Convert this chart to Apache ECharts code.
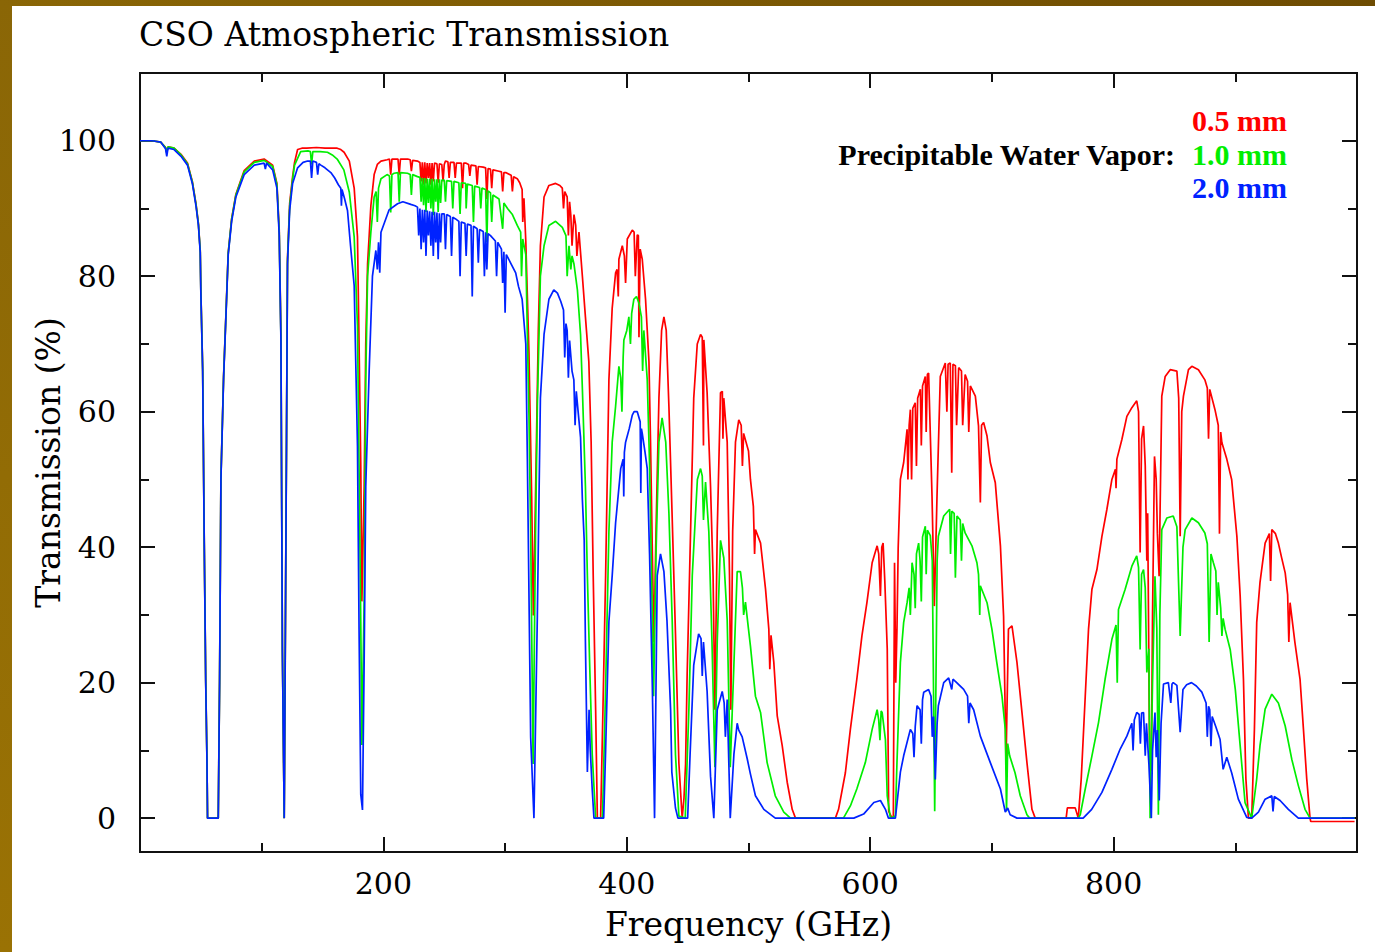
<!DOCTYPE html>
<html>
<head>
<meta charset="utf-8">
<script src="https://cdn.jsdelivr.net/npm/echarts@6/dist/echarts.min.js"></script>
<style>
html,body{margin:0;padding:0;background:#fff;}
#chart{width:1375px;height:952px;}
</style>
</head>
<body>
<div id="chart"></div>
<script>
// ---- Data (frequency GHz, transmission %) ----
const titleText = 'CSO Atmospheric Transmission';
const xTickLabels = [200, 400, 600, 800];
const yTickLabels = [0, 20, 40, 60, 80, 100];
const yMinorTicks = [10, 30, 50, 70, 90];
const seriesNames = ['0.5 mm', '1.0 mm', '2.0 mm'];

const pwv05 = [[0,100],[10,100],[17,99.8],[21,99],[22,98.3],[23,99.1],[28,98.9],[33.7,98],[39,96.7],[43,94],[46,90.7],[48,87.8],[49.5,83.8],[50,77.9],[51.5,66.3],[52.8,40.7],[54,20.3],[55,9.1],[55.5,0],[64.3,0],[65.4,20.3],[66.5,50.3],[68.7,65.3],[70.6,74.3],[72.5,83.5],[75.3,88.5],[78.8,92.1],[85.6,95.6],[93.9,97],[102,97.3],[109,96.4],[112.5,93.7],[114.4,86.8],[115.8,71.3],[117,25.3],[118.5,0],[119.3,23.3],[120.4,56.8],[121.2,82.6],[123,90.8],[125.4,94.7],[127,96.8],[129.5,98.7],[133,98.9],[137,98.9],[145,99],[152,98.9],[157,98.9],[162,98.9],[165,98.7],[167.7,98.3],[172,97],[176,93],[178.7,85.8],[180,70],[181.4,52.2],[182.3,32],[184.2,49],[185.5,70],[187,81.8],[189.7,90.4],[192.4,95],[195,96.5],[198,97],[203,97.2],[205,97.3],[206,95],[207,97.3],[208.8,97.3],[212,97.3],[213,95],[214,97.3],[220,97.3],[222,97.2],[223,95.5],[224,97.1],[228,97],[230,96.8],[231,94],[232,96.8],[233,93.5],[234,96.8],[235,93.7],[236,96.7],[237,94.5],[238,96.7],[239,93.5],[240,96.7],[241,94],[242,96.7],[244,96.6],[245,93.8],[246,96.6],[248,96.5],[249,94],[250,96.5],[251,97],[253,96.9],[254,94.5],[255,96.8],[258,96.8],[259,94.5],[260,96.7],[264,96.7],[265,93],[266,96.7],[267.6,96.7],[270,96.5],[271,94.8],[272,96.4],[276,96.3],[277,93.5],[278,96.2],[282,96.1],[284,96],[285,91.4],[286,95.9],[288,95.8],[289,93],[290,95.7],[295,95.5],[297,95.4],[298,92.5],[299,95.3],[300.5,95.3],[305,94.9],[306,92.5],[307,94.7],[310,94.4],[312,93.8],[314,92.8],[314.5,88],[315.5,91.5],[317,85.2],[319.6,68.7],[321.8,47.6],[323.2,29.9],[325,47.6],[327.3,72],[329,84.5],[332,91.7],[336,93.4],[341.5,93.7],[345,93.4],[347,93],[348,90],[349,92.5],[351,91.7],[352,86],[353,91],[354,89],[355,84.5],[356.6,89.1],[358,87.5],[359,83],[360.7,86.5],[363.5,80],[366,74],[368.8,67.4],[370.7,55.5],[372.4,35.8],[374.4,16],[375.8,0],[378.5,0],[380.4,16],[382.6,35.8],[385.3,64.7],[388,75.3],[390.8,80.5],[392,81],[393,77],[393.5,82.5],[396.3,84.5],[398,83],[399,79],[400.4,85.5],[404.5,86.8],[406,86.5],[407,80],[408.6,86.1],[409.5,86],[410,71],[411,84],[412.7,82.5],[415.4,76.6],[418.2,67.4],[419.5,55.5],[421,39],[422.3,26],[424,42.3],[426.4,62],[428.6,72],[430.5,74],[432.4,72],[434.6,60.8],[437.3,44.3],[440,27.2],[442.8,8.1],[445.5,0],[447,3],[448.3,8],[449.6,21.3],[452.4,42.3],[455,62],[457.9,70],[460.6,71.4],[462,71],[463,55],[463.3,70.6],[466,62.8],[468.8,49],[470.9,35.8],[472.4,16],[474.3,42.3],[477,62.8],[478.5,63],[479,56],[479.7,62],[482.5,55.5],[484.4,35.8],[485.5,16],[487,42.3],[489.3,55.5],[492,58.8],[494,58],[495,52],[496,56.8],[500,54.2],[501.6,50],[504,46],[505,39],[505.7,42.6],[509.9,40.6],[514,33.8],[516.7,27.9],[517.5,22],[518.5,27],[520.8,23],[523.6,15.1],[527.7,10.7],[531.8,5.3],[535.9,1.3],[538.6,0],[571.4,0],[574,1.3],[579.6,6.7],[583.7,13.1],[589,20.5],[593.2,26.9],[597.3,31.8],[601.6,37.7],[605.7,40.2],[607,39],[608.4,32.8],[609.5,40],[610.6,40.6],[612,35],[614,25],[615.2,1],[618,0],[619,0],[620,37.7],[621,20],[622,27.9],[623,40],[624.8,50],[627.5,52.5],[630.3,57.4],[631,50],[632,58],[633,60.3],[634,50],[635,60.5],[637,61.3],[638,52],[639,62],[641.2,63.3],[642,55],[643,63.8],[645.3,65.2],[646,57],[647,65.5],[648,65.7],[650.8,47.5],[652.7,31.3],[654.9,47.5],[657.6,65.2],[661.7,67.2],[663,60],[664,67],[665.8,67.2],[667,51],[668,67],[670,66.8],[671,58],[672.7,66.5],[675,66],[676,58],[678,65.5],[680,64.5],[681,57],[682.3,63.8],[686.4,62.3],[689,57.9],[690.5,46.6],[691.5,58],[693.2,58.4],[696,56.4],[698.7,52.5],[702.8,49.5],[707,40.2],[709.6,29.8],[711.6,8.2],[713.6,27.9],[716.5,28.4],[720.6,23],[724.7,15.6],[728.8,8.2],[732.9,1.3],[735.6,0],[761,0],[762,1.5],[768.5,1.5],[771,0],[773.4,5.8],[776.7,18],[779.4,27.9],[782.2,33.8],[786.3,36.7],[790.4,41.6],[794.5,45.6],[798.6,50],[801.5,51.5],[802,48.7],[802.7,53],[806.8,55.9],[810.9,59.3],[815,60.6],[819,61.6],[820.5,60],[821.8,39.2],[823,56],[824.6,57.9],[826,52],[827.3,38],[828,45],[829.5,11.2],[831,7],[832,30],[833.6,53.4],[835,50],[836,42],[837.4,35.7],[839.6,62.3],[842.4,65.2],[846.5,66.2],[852,66],[853.5,62],[854.7,41.6],[856,60],[857.4,62.3],[861.5,66.2],[864.3,66.7],[869.7,66.2],[875,64.7],[877,63.5],[878,56],[879,63.3],[883.3,60.3],[886,58],[887,42],[888,57],[889,55.4],[893,53],[897,50],[901.3,41.6],[904,32.8],[906.7,20.5],[908.7,5.8],[910.8,0],[913.5,0],[915.7,13.1],[917.6,28.9],[920.3,34.8],[924.5,40.6],[928,42],[929,35],[930,42.6],[933,42],[935.4,40.6],[938,38.5],[941,36.2],[943,33],[944,26],[945,31.8],[949,25.9],[953.2,20.5],[956,13.1],[958.7,5.8],[961.4,0],[962,-0.5],[998,-0.5]];

const pwv10 = [[0,100],[10,100],[17,99.8],[21,99],[22,98.2],[23,99.1],[28,98.9],[33.7,97.9],[39,96.6],[43,93.9],[46,90.6],[48,87.7],[49.5,83.7],[50,77.8],[51.5,66.2],[52.8,40.6],[54,20.2],[55,9],[55.5,0],[64.3,0],[65.4,20.2],[66.5,50.2],[68.7,65.2],[70.6,74.2],[72.5,83.4],[75.3,88.4],[78.8,92],[85.6,95.4],[93.9,96.8],[102,97.1],[109,96.2],[112.5,93.5],[114.4,86.5],[115.8,71],[117,25],[118.5,0],[119.3,23],[120.4,56.5],[121.2,82.3],[123,90.4],[125.4,94.3],[127,96.4],[129.5,97.4],[132,98.4],[138,98.5],[140,98.4],[141,96.5],[142,98.4],[148,98.4],[154,98.3],[158,97.9],[162,97.3],[167.5,95.7],[172,92.4],[176,85.8],[178.7,72.7],[180,52],[181.4,29],[182.3,10.8],[184.2,32.4],[185.5,64.7],[187,80],[189.7,86.5],[192.4,91.7],[194,92.5],[195,88],[196,93],[198,94.4],[203,95],[205,94.8],[206,89.4],[207,95],[208.8,95.2],[212,95.3],[213,91],[214,95.3],[219.8,95.2],[222,95],[223,92],[224,95],[228,94.7],[230,94.6],[231,91],[232,94.5],[233,90.5],[234,94.5],[235,89.5],[236,94.4],[237,90.8],[238,94.4],[239,90],[240,94.4],[241,89],[242,94.3],[243,91],[244,94.3],[245,89.5],[246,94.3],[247,90.8],[248,94.2],[250,94.2],[251,91],[252,94.1],[256,94],[257,90],[258,94],[262,93.8],[263,89.2],[264,93.8],[267.6,93.7],[268,90],[269,93.6],[273,93.4],[274,88],[275,93.3],[279,93.1],[280,90],[281,93],[284,92.8],[285,85],[286,92.6],[288,92.3],[289,88],[290,92],[295,91.4],[298,87],[299,90.8],[302,90],[306,89.1],[310,87.5],[312.8,86.5],[313.5,80],[314.5,85.5],[317,83.2],[319.6,59.5],[321,42.3],[323,8],[325,42],[326.5,60.8],[329,80],[332,84.5],[336,87.5],[341.5,88.1],[347,87.2],[350,86],[351,80],[352.5,84.5],[354,81],[355,83],[356.6,81.8],[359.4,78],[362,71.4],[363.5,63.4],[366,49],[367.6,35.8],[369.5,22.6],[371.6,9.4],[374.4,0],[380,0],[382.6,19.3],[385.3,42.3],[388,55.5],[390.8,60.8],[393.5,66.7],[395,65],[396,60],[397,68],[397.6,70.6],[400,72],[401.7,74],[403,70],[404,74.5],[405.8,76.6],[408,77],[410,76],[412,74],[413,66],[414,72],[416.8,64.7],[418.7,52.2],[421,29.2],[422,18],[424,39],[426.4,55.5],[429,59.1],[432,55.5],[434.6,45],[437.3,29.2],[440,9.4],[442.8,0.3],[448,0],[451,16],[453.8,35.8],[456.5,45],[458,50],[460.6,51.6],[462,50.5],[463,44],[464.7,49.6],[467.4,42.3],[470,26],[472.4,7.5],[474.3,26],[477,41],[479.7,38.4],[482.5,29.2],[485,7.5],[488,22.6],[490.7,36.4],[493.4,36.4],[495,34],[496,30],[497.5,31.9],[500,27.9],[501.6,25.4],[505.7,18],[509.9,15.6],[515.3,8.2],[522,3.3],[529,0.9],[534.5,0],[578,0],[583.7,1.8],[589,4.3],[596,8.2],[601.6,13.1],[605.7,16],[607,14.5],[608,11.5],[609,15.8],[609.8,15.6],[612.5,11.6],[614,3.3],[616.6,0],[620.7,0.3],[622,8.2],[624.8,23],[627.5,28.9],[630.3,31.8],[632,34],[633,30],[634.4,37.7],[636,36],[637,31],[638,39],[639.8,40.6],[641,38],[642,32],[643,41.5],[645.3,43.1],[646,36],[647,42.5],[649.4,41.7],[651,38],[653,1],[655,38],[656,41.6],[660.4,44.6],[665.3,45.6],[666,39],[667,45.3],[669,45],[670,35.5],[671.3,44.6],[674,44],[675,38],[676,43.5],[678,42.1],[683.6,40.2],[687.7,37.7],[689,36],[690,30],[690.5,34.3],[696,31.8],[700,27.9],[704,23],[708.3,18],[711,13.1],[712,1],[713,11],[714.6,9.2],[719,6.7],[723.3,3.3],[728.8,0.5],[731,0],[771,0],[772.6,0.5],[776.7,4.3],[782.2,9.2],[787.6,14.1],[793,20.5],[798.6,26.4],[802,28.5],[803,20],[804,30.8],[809.5,33.8],[815,37.2],[819,38.7],[820.5,37],[821.8,24.9],[823,36],[824.6,36.7],[826,34],[827.3,21.5],[829,25],[830,0],[832,20],[834,35.7],[835.5,28],[836.8,0.5],[838,30],[839.6,42.6],[843.7,44.3],[849,44.6],[852,43],[854.7,26.9],[857,40],[858.8,42.6],[864.3,44.3],[869.7,43.6],[875,42.1],[877,40.5],[878.5,26],[880,39],[882,37.7],[884,36.5],[885,30],[886,34.8],[888,31],[889,26.9],[890,29.5],[891.6,27.9],[895.8,24.9],[900,19],[904,10.7],[908,2.3],[913.5,0],[917.6,5.8],[920.3,10.7],[924.5,16.1],[930,18.3],[935.4,17],[941,13.6],[946.4,8.7],[951.8,4.8],[957.3,1.3],[961.4,0],[998,0]];

const pwv20 = [[0,100],[10,100],[17,99.8],[21,98.8],[22,97.7],[23,98.9],[28,98.7],[33.7,97.7],[39,96.4],[43,93.7],[46,90.4],[48,87.5],[49.5,83.5],[50,77.6],[51.5,66],[52.8,40.4],[54,20],[55,8.8],[55.5,0],[64.3,0],[65.4,20],[66.5,50],[68.7,65],[70.6,74],[72.5,83.2],[75.3,88.1],[78.8,91.7],[85.6,95],[93.9,96.4],[102,96.7],[103,95.8],[104,96.7],[109,95.7],[112.5,93],[114.4,86],[115.8,70.6],[117,24.6],[118.5,0],[119.3,22.6],[120.4,56],[121.2,81.8],[123,89.8],[125.4,93.7],[129.5,96],[134,96.8],[137.7,97],[140,97],[141,94.5],[142,97],[145,96.8],[146,95],[147,96.6],[148.6,96.4],[152,96],[156.8,95.3],[160,94.5],[163,93.5],[165,93],[165.5,90.4],[166,92.8],[168,91.5],[170.5,89.7],[173,84.5],[176,78.6],[178.7,54.9],[180,27.9],[181.4,3.5],[182.8,1.2],[184.2,23.3],[185.5,49],[188.3,66],[191,80],[193.8,83.8],[195,81],[196,85],[197,80.5],[198,86.5],[204.7,89.8],[211.6,90.7],[216,91],[222.5,90.6],[226,90.4],[228,90.2],[229,86],[230,90],[231,84],[232,89.8],[233,85],[234,89.8],[235,83],[236,89.7],[237,86],[238,89.6],[239,84.5],[240,89.5],[241,83],[242,89.5],[243,85],[244,89.4],[245,82.5],[246,89.3],[247,85],[248,89.2],[250,89.2],[251,84],[252,89.1],[255,88.8],[256,83],[257,88.7],[259,88.5],[262,88.1],[263,80],[264,88],[267,87.8],[268,83],[269,87.7],[272,87.5],[273,77],[274,87.4],[277,87],[278,82],[279,86.9],[282,86.6],[283,80],[284,86.5],[285,81],[286,86.3],[288,86],[292,85.2],[293,80],[294,85],[297,84],[298,79],[299,83.6],[300,74.6],[301,83.2],[305,81.8],[308.7,80.5],[311,78.5],[314,76.6],[317,70],[318.3,53],[321,12],[323.7,0],[326.5,29.9],[329,62],[332,71.4],[336,76.6],[340,78],[343,77.5],[345.7,76.3],[348,75],[349,68],[350,73],[351,72],[352,65],[353,70.5],[355,66],[356.5,64.7],[357.5,58],[358.5,63],[360,60],[362,56.2],[363.5,47],[365,41],[366,26],[367.6,6.8],[369,16],[370,10],[371.6,4.2],[373,0],[381,0],[382.6,10],[385.3,29],[388,35.8],[390.8,43.6],[395,51.6],[397,53],[397.5,47.5],[398,54],[399,55.5],[402,57.5],[404.5,59.5],[406,60],[408.6,60],[411,58.5],[411.5,48],[412,57.5],[412.7,56.8],[415,54],[416.8,51.6],[418.7,39],[421,19.3],[422.8,0],[425,35.8],[427.7,39],[430.5,36.4],[433,29.2],[436,16],[437,6.8],[440,1.5],[442,0],[450,0],[452,9.4],[455,22.6],[459,27.2],[461,26.5],[462,21],[463,26],[466,18.7],[468.8,6.2],[471.5,0],[474.3,16],[478.4,18.7],[480,17],[481,12],[482.5,17.5],[485,0],[488,9.4],[490.7,14],[492,13],[494.8,12],[498.9,8.8],[501.6,6.5],[505.7,3.3],[512.6,1.3],[522,0],[586.5,0],[594.6,0.6],[603,2.3],[608.4,2.6],[612.5,1.3],[615,0],[620.7,0],[624.8,6.8],[627.5,9.2],[633,13.1],[635,12.5],[636,9],[637,13.5],[638.5,16.6],[641,16],[642,11],[643,17.5],[644,18.6],[648,19],[650,18],[651,12],[652,15],[653.5,5.7],[655,14],[656,16.6],[660.4,20],[664.5,20.7],[667,19],[668,20.5],[670,20.2],[676.8,19],[680,18],[681,14],[682,17],[685,16],[690.5,12.1],[698.7,8.2],[707,4.3],[711,0.9],[713,1.5],[715,0.5],[720.6,0],[775,0],[782,1.3],[790.4,3.8],[798.6,7.2],[805.4,10.2],[810.9,12.1],[815,14],[816,10],[817,14.5],[819,15.6],[821,15.3],[822,11],[823,15.5],[824.6,15.6],[826,9.2],[827,14],[829,8],[831,0],[832,10],[834,15.6],[835,9],[836,13],[837.5,2.6],[839,14],[841,19.8],[845,20],[847,17],[848,19.8],[849,20],[852,19.6],[854.7,12.7],[857,19],[860,19.7],[864,20],[868,19.5],[872.5,18.6],[876,17],[877,12],[878,16.5],[879,16],[880,10.6],[881,15],[884,13.5],[887.5,11.6],[890,7.2],[893,9],[897,6.7],[902.5,2.8],[909.4,0.1],[913.5,0],[919,0.9],[924.5,2.8],[930,3.3],[931,1],[932,3.2],[936.8,2.6],[943.6,1.3],[951.8,0],[998,0]];

// ---- Chart ----
const FONT = 'DejaVu Serif';
const chart = echarts.init(document.getElementById('chart'), null, {renderer: 'svg'});

const axisLineStyle = {color: '#111', width: 2};
function yAxisCfg(position, values, len, showLabels) {
  return {
    type: 'value', position: position, min: -5, max: 110,
    axisLine: {show: true, onZero: false, lineStyle: axisLineStyle},
    axisTick: {show: true, inside: true, length: len, customValues: values, lineStyle: {color: '#111', width: 2}},
    axisLabel: showLabels ? {show: true, customValues: values, fontFamily: FONT, fontSize: 30, color: '#000', margin: 24} : {show: false},
    splitLine: {show: false}
  };
}

const option = {
  backgroundColor: '#ffffff',
  animation: false,
  title: {
    text: titleText, left: 134, top: 13,
    textStyle: {fontFamily: FONT, fontSize: 33, fontWeight: 'normal', color: '#000'}
  },
  grid: {left: 140, right: 18, top: 73, bottom: 100},
  xAxis: [
    {
      type: 'value', position: 'bottom', min: 0, max: 1000, interval: 200,
      name: 'Frequency (GHz)', nameLocation: 'middle', nameGap: 56,
      nameTextStyle: {fontFamily: FONT, fontSize: 33, color: '#000'},
      axisLine: {show: true, onZero: false, lineStyle: axisLineStyle},
      axisTick: {show: true, inside: true, length: 15, lineStyle: {color: '#111', width: 2}},
      minorTick: {show: true, splitNumber: 2, length: 9, lineStyle: {color: '#111', width: 2}},
      axisLabel: {show: true, customValues: xTickLabels, fontFamily: FONT, fontSize: 30, color: '#000', margin: 16},
      splitLine: {show: false}
    },
    {
      type: 'value', position: 'top', min: 0, max: 1000, interval: 200,
      axisLine: {show: true, onZero: false, lineStyle: axisLineStyle},
      axisTick: {show: true, inside: true, length: 15, lineStyle: {color: '#111', width: 2}},
      minorTick: {show: true, splitNumber: 2, length: 9, lineStyle: {color: '#111', width: 2}},
      axisLabel: {show: false},
      splitLine: {show: false}
    }
  ],
  yAxis: [
    Object.assign(yAxisCfg('left', yTickLabels, 15, true), {
      name: 'Transmission (%)', nameLocation: 'middle', nameGap: 75, nameRotate: 90,
      nameMoveOverlap: false,
      nameTextStyle: {fontFamily: FONT, fontSize: 33, color: '#000'}
    }),
    yAxisCfg('left', yMinorTicks, 9, false),
    yAxisCfg('right', yTickLabels, 15, false),
    yAxisCfg('right', yMinorTicks, 9, false)
  ],
  series: [
    {name: seriesNames[0], type: 'line', data: pwv05, showSymbol: false, lineStyle: {color: '#ff0000', width: 1.7}, z: 2},
    {name: seriesNames[1], type: 'line', data: pwv10, showSymbol: false, lineStyle: {color: '#00ee00', width: 1.7}, z: 3},
    {name: seriesNames[2], type: 'line', data: pwv20, showSymbol: false, lineStyle: {color: '#0022ff', width: 1.7}, z: 4}
  ],
  graphic: [
    {type: 'rect', left: 0, top: 0, z: 100, shape: {width: 12, height: 952},
     style: {fill: new echarts.graphic.LinearGradient(0, 0, 0, 1, [{offset: 0, color: '#8a6606'}, {offset: 1, color: '#9a7204'}])}},
    {type: 'rect', left: 0, top: 0, z: 100, shape: {width: 1375, height: 6},
     style: {fill: new echarts.graphic.LinearGradient(0, 0, 1, 0, [{offset: 0, color: '#8a6606'}, {offset: 1, color: '#6e4c02'}])}},
    {type: 'text', right: 200, top: 139, z: 100,
     style: {text: 'Precipitable Water Vapor:', fontFamily: 'Liberation Serif', fontWeight: 'bold', fontSize: 30, fill: '#000', textAlign: 'right'}},
    {type: 'text', right: 88, top: 105, z: 100,
     style: {text: seriesNames[0], fontFamily: 'Liberation Serif', fontWeight: 'bold', fontSize: 30, fill: '#ff0000', textAlign: 'right'}},
    {type: 'text', right: 88, top: 139, z: 100,
     style: {text: seriesNames[1], fontFamily: 'Liberation Serif', fontWeight: 'bold', fontSize: 30, fill: '#00ee00', textAlign: 'right'}},
    {type: 'text', right: 88, top: 172, z: 100,
     style: {text: seriesNames[2], fontFamily: 'Liberation Serif', fontWeight: 'bold', fontSize: 30, fill: '#0022ff', textAlign: 'right'}}
  ]
};
chart.setOption(option);
</script>
</body>
</html>
